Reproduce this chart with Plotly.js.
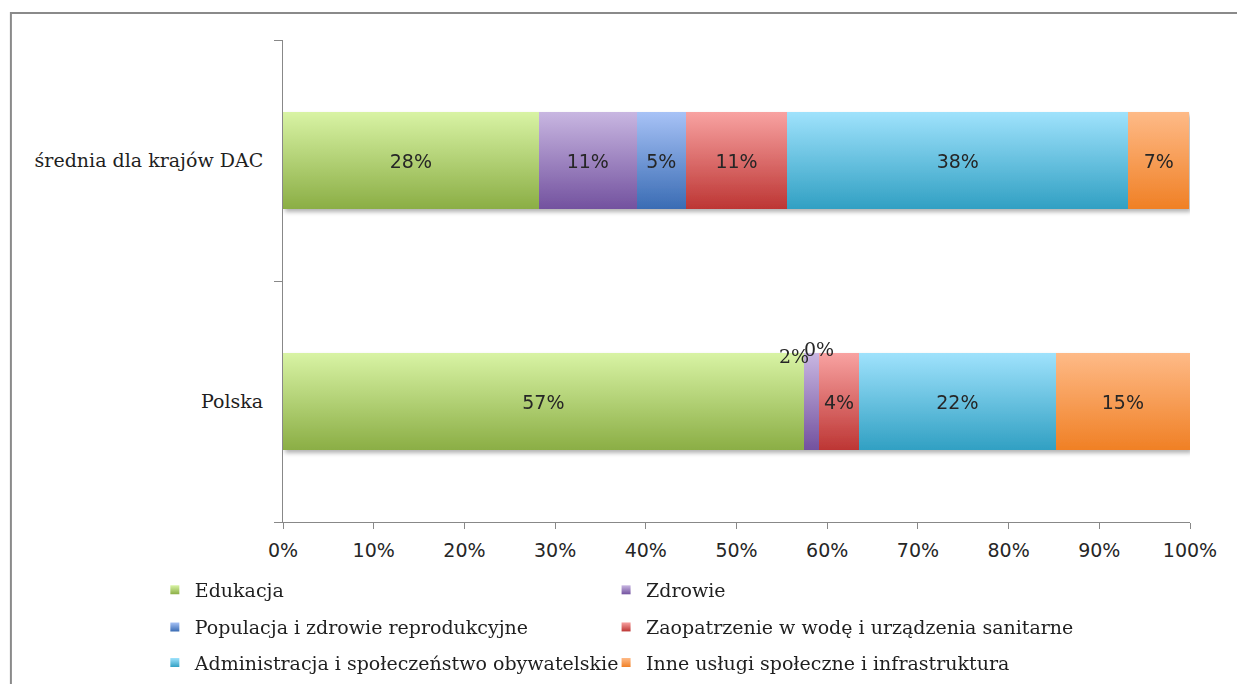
<!DOCTYPE html>
<html>
<head>
<meta charset="utf-8">
<script src="https://cdn.plot.ly/plotly-3.0.1.min.js"></script>
<style>
  html, body { margin: 0; padding: 0; background: #ffffff; }
  #chart { width: 1237px; height: 684px; }
</style>
</head>
<body>
<div id="chart"></div>
<script>
// ---- data ----
const categories = ['Polska', 'średnia dla krajów DAC'];
const seriesNames = [
  'Edukacja',
  'Zdrowie',
  'Populacja i zdrowie reprodukcyjne',
  'Zaopatrzenie w wodę i urządzenia sanitarne',
  'Administracja i społeczeństwo obywatelskie',
  'Inne usługi społeczne i infrastruktura'
];
const edukacja      = [0.574, 0.282];
const zdrowie       = [0.017, 0.108];
const populacja     = [0.000, 0.054];
const zaopatrzenie  = [0.044, 0.112];
const administracja = [0.217, 0.376];
const inne          = [0.148, 0.067];
const xTickValues = [0, 0.1, 0.2, 0.3, 0.4, 0.5, 0.6, 0.7, 0.8, 0.9, 1.0];

// ---- styling ----
const seriesValues = [edukacja, zdrowie, populacja, zaopatrzenie, administracja, inne];
const gradColors = [
  ['#d8f3a4', '#8bae45'],
  ['#c8b6e1', '#73529f'],
  ['#a7c2f6', '#3a6cb4'],
  ['#f8a2a1', '#bd3634'],
  ['#9fe2fc', '#31a0c3'],
  ['#feba87', '#f08025']
];
const midColors = ['#b3d477', '#9d84c0', '#7096d6', '#dc6b6a', '#68c1df', '#f89d57'];
const legendIds = ['legend', 'legend2', 'legend3', 'legend4', 'legend5', 'legend6'];
const legendX = [-0.1413, 0.3562];
const legendY = [-0.141, -0.218, -0.292];
const serif = '"DejaVu Serif", serif';
const sans = '"DejaVu Sans", Verdana, sans-serif';
const smallLimit = 0.03;

const traces = seriesValues.map((vals, i) => ({
  type: 'bar',
  orientation: 'h',
  name: seriesNames[i],
  y: categories,
  x: vals,
  legend: legendIds[i],
  marker: { color: midColors[i], line: { width: 0 } },
  text: vals.map(v => v < smallLimit ? '' : Math.round(v * 100) + '%'),
  textposition: 'inside',
  insidetextanchor: 'middle',
  textangle: 0,
  constraintext: 'none',
  textfont: { family: sans, size: 19, color: '#262626' },
  hoverinfo: 'name+x'
}));

// annotations for small segments (placed above the bar)
const annotations = [];
categories.forEach((cat, ci) => {
  let cum = 0;
  seriesValues.forEach((vals, si) => {
    const v = vals[ci];
    if (v < smallLimit) {
      annotations.push({
        x: cum + v / 2, y: ci + 0.2, xref: 'x', yref: 'y',
        text: Math.round(v * 100) + '%', showarrow: false,
        xanchor: 'center', yanchor: 'middle',
        xshift: v > 0 ? -17 : 0, yshift: v > 0 ? -3 : 4,
        font: { family: serif, size: 19, color: '#262626' }
      });
    }
    cum += v;
  });
});

const legendCommon = {
  orientation: 'h',
  xanchor: 'left', yanchor: 'middle',
  font: { family: serif, size: 19, color: '#1f1f1f' },
  bgcolor: 'rgba(0,0,0,0)', itemclick: false
};

const layout = {
  width: 1237, height: 684,
  margin: { l: 283, r: 47, t: 40, b: 162, autoexpand: false },
  paper_bgcolor: '#ffffff', plot_bgcolor: '#ffffff',
  barmode: 'stack', bargap: 0.6,
  showlegend: true,
  xaxis: {
    range: [0, 1], tickvals: xTickValues, tickformat: '.0%',
    showgrid: false, zeroline: false,
    showline: true, linecolor: '#888888', linewidth: 1,
    ticks: 'outside', ticklen: 6, tickcolor: '#888888',
    ticklabelstandoff: 5,
    tickfont: { family: sans, size: 19, color: '#262626' }
  },
  yaxis: {
    type: 'category', range: [-0.5, 1.5],
    showgrid: false, zeroline: false,
    showline: true, linecolor: '#888888', linewidth: 1,
    ticks: 'outside', tickson: 'boundaries', ticklen: 8, tickcolor: '#888888',
    ticklabelstandoff: 15,
    tickfont: { family: serif, size: 19, color: '#1f1f1f' }
  },
  annotations: annotations,
  shapes: [{
    type: 'rect', xref: 'paper', yref: 'paper',
    x0: -0.3, x1: 1.2, y0: -0.5, y1: 1.056,
    line: { color: '#8a8a8a', width: 2 }, fillcolor: 'rgba(0,0,0,0)', layer: 'below'
  }]
};
legendIds.forEach((id, i) => {
  layout[id] = Object.assign({}, legendCommon, { x: legendX[i % 2], y: legendY[Math.floor(i / 2)] });
});

const gdEl = document.getElementById('chart');

function ensureDefs() {
  if (document.getElementById('barGrad0')) return;
  const ns = 'http://www.w3.org/2000/svg';
  const holder = document.createElementNS(ns, 'svg');
  holder.setAttribute('width', '0'); holder.setAttribute('height', '0');
  holder.style.position = 'absolute';
  const defs = document.createElementNS(ns, 'defs');
  holder.appendChild(defs);
  gradColors.forEach((c, i) => {
    const lg = document.createElementNS(ns, 'linearGradient');
    lg.setAttribute('id', 'barGrad' + i);
    lg.setAttribute('x1', '0'); lg.setAttribute('y1', '0');
    lg.setAttribute('x2', '0'); lg.setAttribute('y2', '1');
    [[0, c[0]], [1, c[1]]].forEach(([o, col]) => {
      const s = document.createElementNS(ns, 'stop');
      s.setAttribute('offset', o); s.setAttribute('stop-color', col);
      lg.appendChild(s);
    });
    defs.appendChild(lg);
  });
  const f = document.createElementNS(ns, 'filter');
  f.setAttribute('id', 'barShadow');
  f.setAttribute('x', '-5%'); f.setAttribute('y', '-20%');
  f.setAttribute('width', '110%'); f.setAttribute('height', '150%');
  const ds = document.createElementNS(ns, 'feDropShadow');
  ds.setAttribute('dx', '2'); ds.setAttribute('dy', '3');
  ds.setAttribute('stdDeviation', '2'); ds.setAttribute('flood-color', '#000');
  ds.setAttribute('flood-opacity', '0.3');
  f.appendChild(ds); defs.appendChild(f);
  document.body.insertBefore(holder, document.body.firstChild);
}

function traceIndexOf(el) {
  let n = el;
  while (n && n !== gdEl) {
    const d = n.__data__;
    if (d) {
      const item = Array.isArray(d) ? d[0] : d;
      if (item && item.trace && typeof item.trace.index === 'number') return item.trace.index;
    }
    n = n.parentNode;
  }
  return -1;
}

function decorate() {
  ensureDefs();
  gdEl.querySelectorAll('.barlayer .trace').forEach((t, i) => {
    t.querySelectorAll('path').forEach(p => { p.style.fill = 'url(#barGrad' + i + ')'; });
  });
  const bl = gdEl.querySelector('.barlayer');
  if (bl && bl.getAttribute('filter') !== 'url(#barShadow)') bl.setAttribute('filter', 'url(#barShadow)');

  gdEl.querySelectorAll('.legendpoints path').forEach(p => {
    const idx = traceIndexOf(p);
    if (idx < 0) return;
    p.style.fill = 'url(#barGrad' + idx + ')';
    if (!p.dataset.scaled) {
      p.setAttribute('transform', (p.getAttribute('transform') || '') + ' scale(0.75)');
      p.dataset.scaled = '1';
    }
  });
}

const observer = new MutationObserver(() => decorate());
observer.observe(gdEl, { childList: true, subtree: true });

Plotly.newPlot(gdEl, traces, layout, { displayModeBar: false, staticPlot: true }).then(() => {
  decorate();
  requestAnimationFrame(decorate);
});
</script>
</body>
</html>
